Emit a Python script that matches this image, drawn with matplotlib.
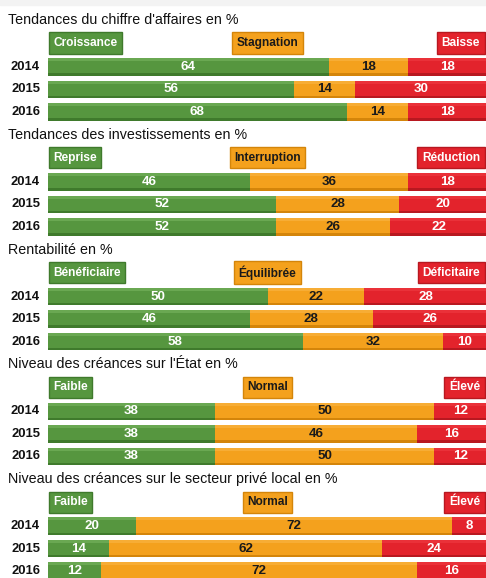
import matplotlib.pyplot as plt
from matplotlib.patches import Rectangle

# chart data
titles = [
    "Tendances du chiffre d'affaires en %",
    "Tendances des investissements en %",
    "Rentabilité en %",
    "Niveau des créances sur l'État en %",
    "Niveau des créances sur le secteur privé local en %",
]
categories = [
    ["Croissance", "Stagnation", "Baisse"],
    ["Reprise", "Interruption", "Réduction"],
    ["Bénéficiaire", "Équilibrée", "Déficitaire"],
    ["Faible", "Normal", "Élevé"],
    ["Faible", "Normal", "Élevé"],
]
years = ["2014", "2015", "2016"]
green_vals = [[64, 56, 68], [46, 52, 52], [50, 46, 58], [38, 38, 38], [20, 14, 12]]
orange_vals = [[18, 14, 14], [36, 28, 26], [22, 28, 32], [50, 46, 50], [72, 62, 72]]
red_vals = [[18, 30, 18], [18, 20, 22], [28, 26, 10], [12, 16, 12], [8, 24, 16]]

colors = ["#56963f", "#f4a11d", "#e3232c"]
tops = ["#6aa852", "#f7ad35", "#ea3139"]
edges = ["#3f7a2c", "#d4850a", "#b81820"]
text_colors = ["white", "#1a1a1a", "white"]

plt.rcParams['font.family'] = ['Liberation Sans', 'DejaVu Sans']

W, H = 486, 578
fig = plt.figure(figsize=(W / 100, H / 100), dpi=100)
ax = fig.add_axes([0, 0, 1, 1])

# x in percent: 0 at pixel 48, 100 at pixel 487
px = 4.39
x0 = 48
ax.set_xlim(-x0 / px, (W - x0) / px)
ax.set_ylim(H, 0)
ax.axis('off')

# light strip at the top
ax.add_patch(Rectangle((-x0 / px, 0), W / px, 5, color="#f3f3f3", zorder=0))

panel_step = 114.8
bar_h = 17.5

for p in range(5):
    b0 = 67 + panel_step * p
    ty = b0 - 47
    ax.text(-40 / px, ty, titles[p], fontsize=10.3, va='center', ha='left', color='#111111')

    # legend boxes
    ly = b0 - 24
    box = dict(boxstyle='square,pad=0.38', lw=1)
    ax.text(1.2, ly, categories[p][0], fontsize=8.6, fontweight='bold', va='center', ha='left',
            color='white', bbox=dict(box, fc=colors[0], ec=edges[0]))
    ax.text(50, ly, categories[p][1], fontsize=8.6, fontweight='bold', va='center', ha='center',
            color='#1a1a1a', bbox=dict(box, fc=colors[1], ec=edges[1]))
    ax.text(98.4, ly, categories[p][2], fontsize=8.6, fontweight='bold', va='center', ha='right',
            color='white', bbox=dict(box, fc=colors[2], ec=edges[2]))

    for j, yr in enumerate(years):
        by = b0 + 22.5 * j
        segs = [green_vals[p][j], orange_vals[p][j], red_vals[p][j]]
        left = 0
        for k, v in enumerate(segs):
            ax.barh(by, v, left=left, height=bar_h, color=colors[k], lw=0)
            # lighter top and darker bottom edge
            ax.barh(by - bar_h / 2 + 1.5, v, left=left, height=3, color=tops[k], lw=0)
            ax.barh(by + bar_h / 2 - 1.2, v, left=left, height=2.4, color=edges[k], lw=0)
            ax.text(left + v / 2, by, str(v), fontsize=9.6, fontweight='bold',
                    ha='center', va='center', color=text_colors[k])
            left += v
        ax.text(-8 / px, by, yr, fontsize=9.4, fontweight='bold', ha='right', va='center',
                color='#111111')

fig.savefig("out.png", dpi=100)
